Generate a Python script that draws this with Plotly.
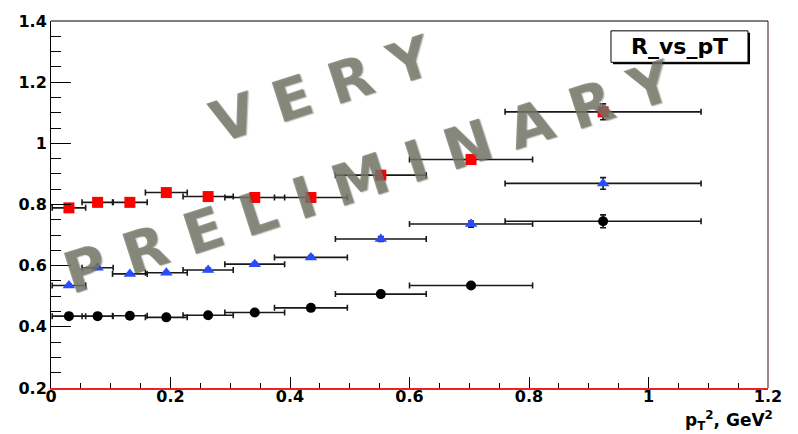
import plotly.graph_objects as go

# ---- data ----
pt2 = [0.030, 0.078, 0.132, 0.193, 0.263, 0.341, 0.435, 0.552, 0.703, 0.924]
pt2_err = [0.028, 0.026, 0.029, 0.035, 0.042, 0.050, 0.061, 0.076, 0.103, 0.164]

red_y = [0.789, 0.807, 0.807, 0.839, 0.826, 0.823, 0.823, 0.896, 0.947, 1.103]
red_err = [0.004, 0.004, 0.004, 0.005, 0.005, 0.005, 0.006, 0.010, 0.015, 0.026]

blue_y = [0.535, 0.593, 0.573, 0.577, 0.586, 0.605, 0.627, 0.687, 0.736, 0.869]
blue_err = [0.004, 0.004, 0.004, 0.004, 0.005, 0.005, 0.006, 0.008, 0.010, 0.019]

black_y = [0.435, 0.435, 0.436, 0.431, 0.438, 0.447, 0.462, 0.507, 0.535, 0.745]
black_err = [0.003, 0.003, 0.003, 0.003, 0.004, 0.004, 0.005, 0.006, 0.008, 0.021]

x_ticks = [0, 0.2, 0.4, 0.6, 0.8, 1.0, 1.2]
x_tick_text = ["0", "0.2", "0.4", "0.6", "0.8", "1", "1.2"]
y_ticks = [0.2, 0.4, 0.6, 0.8, 1.0, 1.2, 1.4]
y_tick_text = ["0.2", "0.4", "0.6", "0.8", "1", "1.2", "1.4"]

ERR_COLOR = "rgb(25,25,25)"


def series(y, yerr, symbol, color, size):
    return go.Scatter(
        x=pt2, y=y, mode="markers",
        marker=dict(symbol=symbol, color=color, size=size, line=dict(width=0)),
        error_x=dict(type="data", array=pt2_err, color=ERR_COLOR, thickness=1.6, width=3),
        error_y=dict(type="data", array=yerr, color=ERR_COLOR, thickness=1.6, width=3),
        showlegend=False,
    )


fig = go.Figure()
fig.add_trace(series(black_y, black_err, "circle", "black", 10))
fig.add_trace(series(blue_y, blue_err, "triangle-up", "#2a4cff", 11))
fig.add_trace(series(red_y, red_err, "square", "#ff0000", 11))

tick_font = dict(family="DejaVu Sans", size=16, color="black", weight="bold")

fig.update_layout(
    width=798, height=434,
    margin=dict(l=51, r=30, t=15, b=46),
    paper_bgcolor="white", plot_bgcolor="white",
    xaxis=dict(
        range=[0, 1.2], tickvals=x_ticks, ticktext=x_tick_text,
        showgrid=False, zeroline=False,
        showline=True, linecolor="#ee2222", linewidth=2,
        ticks="inside", ticklen=11, tickcolor="black", tickwidth=1,
        minor=dict(dtick=0.05, tick0=0, ticks="inside", ticklen=5, tickcolor="black", tickwidth=1),
        tickfont=tick_font, ticklabelstandoff=-7,
    ),
    yaxis=dict(
        range=[0.2, 1.4], tickvals=y_ticks, ticktext=y_tick_text,
        showgrid=False, zeroline=False,
        showline=True, linecolor="black", linewidth=1,
        ticks="inside", ticklen=20, tickcolor="black", tickwidth=1,
        minor=dict(dtick=0.05, tick0=0, ticks="inside", ticklen=10, tickcolor="black", tickwidth=1),
        tickfont=tick_font,
    ),
)

# frame top and right
fig.add_shape(type="line", xref="paper", yref="paper", x0=0, x1=1, y0=1, y1=1,
              line=dict(color="black", width=1))
fig.add_shape(type="line", xref="paper", yref="paper", x0=1, x1=1, y0=0, y1=1,
              line=dict(color="#3a1010", width=1))

# title box with shadow
fig.add_shape(type="rect", xref="x", yref="y", x0=0.9406, x1=1.1699, y0=1.2585, y1=1.3614,
              line=dict(width=0), fillcolor="black")
fig.add_shape(type="rect", xref="x", yref="y", x0=0.9372, x1=1.1665, y0=1.2649, y1=1.3678,
              line=dict(color="black", width=1), fillcolor="white")
fig.add_annotation(x=1.052, y=1.316, xref="x", yref="y", text="<b>R_vs_pT</b>",
                   showarrow=False, font=dict(family="DejaVu Sans", size=22, color="black"),
                   xanchor="center", yanchor="middle")

# axis title
fig.add_annotation(x=1.0098, y=-0.088, xref="paper", yref="paper",
                   text="<b>p<sub>T</sub><sup>2</sup>, GeV<sup>2</sup></b>",
                   showarrow=False, font=dict(family="DejaVu Sans", size=17, color="black"),
                   xanchor="right", yanchor="middle")

# watermark
SP = " "
wm_font = dict(family="DejaVu Sans", size=57, color="rgba(118,120,106,0.78)", weight="bold",
               shadow="1px 1px 1px rgba(60,60,50,0.45)")
fig.add_annotation(x=0.452, y=1.178, xref="x", yref="y", text=SP.join("VERY"), textangle=-18,
                   showarrow=False, font=wm_font, xanchor="center", yanchor="middle")
fig.add_annotation(x=0.530, y=0.89, xref="x", yref="y", text=SP.join("PRELIMINARY"), textangle=-18,
                   showarrow=False, font=wm_font, xanchor="center", yanchor="middle")

fig.write_html("out.html")
